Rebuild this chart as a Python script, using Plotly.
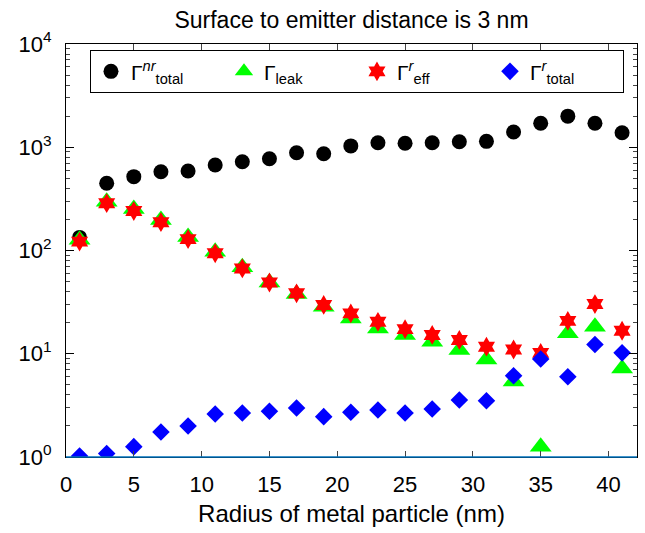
import plotly.graph_objects as go

radius = [1, 3, 5, 7, 9, 11, 13, 15, 17, 19, 21, 23, 25, 27, 29, 31, 33, 35, 37, 39, 41]
gamma_nr_total = [134, 448, 519, 580, 589, 673, 724, 774, 885, 866, 1030, 1107, 1092, 1107, 1132, 1141, 1406, 1706, 2000, 1706, 1384]
gamma_leak = [127, 297, 252, 197, 135, 97, 69, 49, 38, 28.6, 22, 17.6, 15.2, 13.1, 10.9, 8.8, 5.4, 1.26, 15.8, 18.3, 7.2]
gamma_r_eff = [122, 287, 241, 188, 129, 94, 67, 49, 38.5, 29.7, 24.6, 20.4, 17.3, 15.2, 13.6, 11.7, 11.0, 10.2, 20.8, 30.3, 16.7]
gamma_r_total = [1.02, 1.08, 1.26, 1.75, 2.0, 2.61, 2.67, 2.77, 2.98, 2.46, 2.71, 2.85, 2.67, 2.92, 3.56, 3.51, 6.13, 8.9, 6.0, 12.3, 10.2]

names = ["Γ<sup><i>nr</i></sup><sub>total</sub>", "Γ<sub>leak</sub>",
         "Γ<sup><i>r</i></sup><sub>eff</sub>", "Γ<sup><i>r</i></sup><sub>total</sub>"]
ytickvals = [1, 10, 100, 1000, 10000]
yticktext = ["10<sup>0</sup>", "10<sup>1</sup>", "10<sup>2</sup>", "10<sup>3</sup>", "10<sup>4</sup>"]
xtickvals = [0, 5, 10, 15, 20, 25, 30, 35, 40]

FONT = "Liberation Sans, Arial, sans-serif"

minor_vals = [m * 10 ** d for d in range(4) for m in range(2, 10)]

fig = go.Figure()
fig.add_trace(go.Scatter(x=radius, y=gamma_nr_total, mode="markers", name=names[0],
                         marker=dict(symbol="circle", size=15, color="black")))
fig.add_trace(go.Scatter(x=radius, y=gamma_leak, mode="markers", name=names[1],
                         marker=dict(symbol="triangle-up", size=19, color="#00FF00")))
fig.add_trace(go.Scatter(x=radius, y=gamma_r_eff, mode="markers", name=names[2],
                         marker=dict(symbol="hexagram", size=15, color="#FF0000")))
fig.add_trace(go.Scatter(x=radius, y=gamma_r_total, mode="markers", name=names[3],
                         marker=dict(symbol="diamond", size=13.5, color="#0000FF")))

fig.add_shape(type="line", xref="paper", yref="paper", x0=0, x1=1, y0=0, y1=0,
              line=dict(color="#0072BD", width=1.5), layer="above")

fig.update_layout(
    width=645, height=533,
    margin=dict(l=66, r=8, t=44, b=76),
    plot_bgcolor="white", paper_bgcolor="white",
    font=dict(family=FONT, size=22, color="black"),
    title=dict(text="Surface to emitter distance is 3 nm", x=0.5, xref="paper",
               y=0.962, yref="container", xanchor="center", yanchor="middle",
               font=dict(size=23, family=FONT, color="black")),
    showlegend=True,
    legend=dict(orientation="h", x=0.042, y=0.985, xanchor="left", yanchor="top",
                bordercolor="black", borderwidth=1, bgcolor="white",
                font=dict(size=21, family=FONT), itemsizing="trace",
                entrywidth=88, entrywidthmode="pixels"),
    xaxis=dict(range=[0, 42.1], tickvals=xtickvals,
               ticks="inside", ticklen=6, tickcolor="#444", ticklabelstandoff=8,
               showline=True, linecolor="black", linewidth=1, mirror="ticks",
               showgrid=False, zeroline=False,
               title=dict(text="Radius of metal particle (nm)", font=dict(size=24), standoff=8),
               tickfont=dict(size=22)),
    yaxis=dict(type="log", range=[0, 4], tickvals=ytickvals, ticktext=yticktext,
               ticks="inside", ticklen=8, tickcolor="black", ticklabelstandoff=9,
               minor=dict(ticks="inside", ticklen=4, tickcolor="#444", showgrid=False,
                          tickvals=minor_vals),
               showline=True, linecolor="black", linewidth=1, mirror="ticks",
               showgrid=False, zeroline=False, tickfont=dict(size=22)),
)

fig.write_html("out.html")
